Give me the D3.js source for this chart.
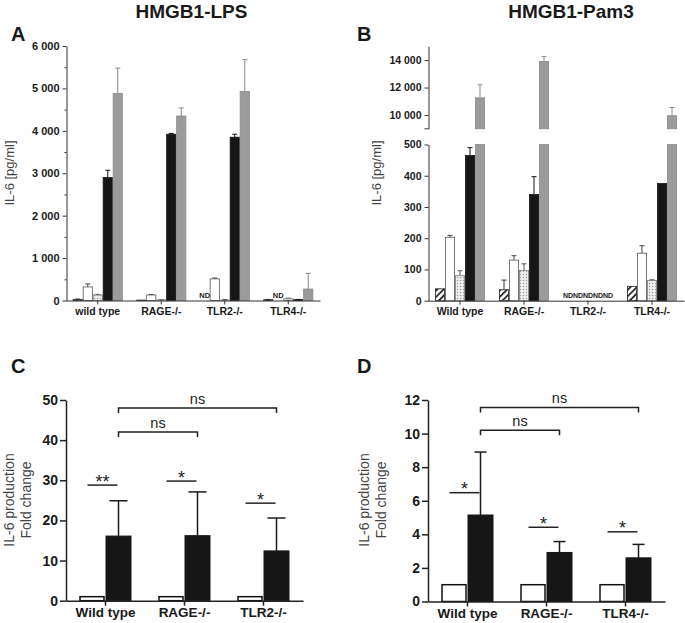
<!DOCTYPE html>
<html><head><meta charset="utf-8">
<script src="https://cdn.jsdelivr.net/npm/d3@7"></script>
<style>body{margin:0;background:#fff}svg{display:block;font-family:"Liberation Sans",Arial,sans-serif}</style>
</head><body><svg id="c" width="685" height="623"></svg>
<script>
// ---------- DATA ----------
const seriesKeys = ["hatched","white","dotted","black","gray"];
// Panel A (HMGB1-LPS)
const groupsA = ["wild type","RAGE-/-","TLR2-/-","TLR4-/-"];
const valuesA = [[25,320,130,2900,4880],[10,130,15,3920,4350],[null,510,8,3850,4930],[20,null,40,20,270]];
const errorsA = [[10,70,15,170,600],[0,10,5,20,190],[0,20,15,70,750],[5,0,15,5,370]];
const ticksA = [0,1000,2000,3000,4000,5000,6000];
const minorTicksA = [500,1500,2500,3500,4500,5500];
// Panel B (HMGB1-Pam3)
const groupsB = ["Wild type","RAGE-/-","TLR2-/-","TLR4-/-"];
const valuesB = [[38,203,80,465,11250],[35,130,97,340,13900],[null,null,null,null,null],[46,152,65,375,9950]];
const errorsB = [[0,6,16,25,950],[31,14,21,57,350],[0,0,0,0,0],[0,24,2,0,600]];
const ticksBLow = [0,100,200,300,400,500];
const ticksBHigh = [10000,12000,14000];
// Panel C
const groupsC = ["Wild type","RAGE-/-","TLR2-/-"];
const controlC = [1,1,1];
const treatedC = [16.1,16.2,12.4];
const errorsC = [8.8,10.9,8.2];
const ticksC = [0,10,20,30,40,50];
const starsC = ["**","*","*"];
const starLevelC = [28.8,29.8,24.3];
const bracketsC = [{from:0,to:2,level:48,label:"ns"},{from:0,to:1,level:42,label:"ns"}];
// Panel D
const groupsD = ["Wild type","RAGE-/-","TLR4-/-"];
const controlD = [1,1,1];
const treatedD = [5.15,2.92,2.6];
const errorsD = [3.75,0.65,0.8];
const ticksD = [0,2,4,6,8,10,12];
const starsD = ["*","*","*"];
const starLevelD = [6.48,4.42,4.15];
const bracketsD = [{from:0,to:2,level:11.56,label:"ns"},{from:0,to:1,level:10.2,label:"ns"}];

// ---------- DRAW ----------
const svg = d3.select("#c");
const fmt = d3.formatLocale({decimal:".",thousands:"\u2009",grouping:[3],currency:["",""]}).format(",");
const fmtSp = v => fmt(v).replace("\u2009"," ");
const defs = svg.append("defs");
const hp = defs.append("pattern").attr("id","hatch").attr("patternUnits","userSpaceOnUse")
  .attr("width",4.5).attr("height",4.5).attr("patternTransform","rotate(45)");
hp.append("rect").attr("width",4.5).attr("height",4.5).attr("fill","#fff");
hp.append("line").attr("x1",0.8).attr("y1",0).attr("x2",0.8).attr("y2",4.5).attr("stroke","#111").attr("stroke-width",1.6);
const dp = defs.append("pattern").attr("id","dots").attr("patternUnits","userSpaceOnUse").attr("width",3).attr("height",3);
dp.append("rect").attr("width",3).attr("height",3).attr("fill","#eeeeee");
dp.append("circle").attr("cx",1.5).attr("cy",1.5).attr("r",0.65).attr("fill","#9a9a9a");

const style = {
  hatched:{fill:"url(#hatch)",stroke:"#222",err:"#333"},
  white:{fill:"#fff",stroke:"#555",err:"#444"},
  dotted:{fill:"url(#dots)",stroke:"#777",err:"#555"},
  black:{fill:"#161616",stroke:"#161616",err:"#111"},
  gray:{fill:"#9b9b9b",stroke:"#8a8a8a",err:"#888"}
};

function styleAxis(g, size, color){
  g.select(".domain").attr("stroke",color||"#333");
  g.selectAll(".tick line").attr("stroke",color||"#333");
  g.selectAll("text").attr("font-size",size).attr("font-weight","bold").attr("fill","#1a1a1a")
    .attr("font-family","'Liberation Sans',Arial,sans-serif");
}
function text(x,y,s,size,opt={}){
  return svg.append("text").attr("x",x).attr("y",y).text(s).attr("font-size",size)
    .attr("font-weight",opt.w||"normal").attr("fill",opt.c||"#1a1a1a").attr("text-anchor",opt.a||"middle");
}
function ylabel(x,yc,lines,size,gap){
  const t = svg.append("text").attr("transform",`translate(${x},${yc}) rotate(-90)`)
    .attr("text-anchor","middle").attr("font-size",size).attr("fill","#444");
  lines.forEach((l,i)=>t.append("tspan").attr("x",0).attr("dy",i?gap:0).text(l));
}
function errBar(g,x,y0,y1,cap,color,w){
  g.append("line").attr("x1",x).attr("x2",x).attr("y1",y0).attr("y2",y1).attr("stroke",color).attr("stroke-width",w||1);
  g.append("line").attr("x1",x-cap/2).attr("x2",x+cap/2).attr("y1",y1).attr("y2",y1).attr("stroke",color).attr("stroke-width",w||1);
}

// Titles and panel letters
text(191.5,18,"HMGB1-LPS",19,{w:"bold"});
text(571,18,"HMGB1-Pam3",19,{w:"bold"});
text(11,41,"A",20,{w:"bold",a:"start"});
text(357,41,"B",20,{w:"bold",a:"start"});
text(11,373,"C",20,{w:"bold",a:"start"});
text(357,373,"D",20,{w:"bold",a:"start"});

// ---------- Panel A ----------
{
  const x = d3.scaleBand().domain(groupsA).range([66,320]);
  const s = d3.scaleBand().domain(seriesKeys).range([-25,25]);
  const y = d3.scaleLinear().domain([0,6000]).range([300.5,46]);
  const g = svg.append("g");
  groupsA.forEach((gr,gi)=>{
    const c = x(gr)+x.bandwidth()/2;
    seriesKeys.forEach((k,si)=>{
      const v = valuesA[gi][si];
      const bx = c+s(k);
      if(v==null){ text(bx+s.bandwidth()/2,298,"ND",7.5,{w:"bold"}); return; }
      const e = errorsA[gi][si];
      if(e>0) errBar(g,bx+s.bandwidth()/2,y(v),y(v+e),5,style[k].err);
      g.append("rect").attr("x",bx+0.4).attr("width",s.bandwidth()-0.8).attr("y",y(v)).attr("height",y(0)-y(v))
        .attr("fill",style[k].fill).attr("stroke",style[k].stroke).attr("stroke-width",0.8);
    });
  });
  const ya = svg.append("g").attr("transform","translate(66.5,0)")
    .call(d3.axisLeft(y).tickValues(ticksA).tickSize(4).tickSizeOuter(0).tickPadding(3).tickFormat(fmtSp));
  styleAxis(ya,11);
  const ym = svg.append("g").attr("transform","translate(66.5,0)")
    .call(d3.axisLeft(y).tickValues(minorTicksA).tickSize(2).tickSizeOuter(0).tickFormat(""));
  ym.select(".domain").remove(); ym.selectAll("line").attr("stroke","#333");
  const xa = svg.append("g").attr("transform","translate(0,300.5)")
    .call(d3.axisBottom(x).tickSize(4).tickSizeOuter(0).tickPadding(3));
  styleAxis(xa,10.5);
  ylabel(14,173,["IL-6 [pg/ml]"],13,0);
}

// ---------- Panel B ----------
{
  const x = d3.scaleBand().domain(groupsB).range([428,684]);
  const s = d3.scaleBand().domain(seriesKeys).range([-25,25]);
  const yL = d3.scaleLinear().domain([0,500]).range([300.7,144.5]);
  const yH = d3.scaleLinear().domain([9000,15000]).range([128.8,46.3]);
  const g = svg.append("g");
  groupsB.forEach((gr,gi)=>{
    const c = x(gr)+x.bandwidth()/2;
    seriesKeys.forEach((k,si)=>{
      const v = valuesB[gi][si];
      const bx = c+s(k), bw = s.bandwidth(), cx = bx+bw/2;
      if(v==null){ text(cx,298,"ND",7,{w:"bold"}); return; }
      const e = errorsB[gi][si];
      const st = style[k];
      if(v>500){
        if(e>0) errBar(g,cx,yH(v),yH(v+e),5,st.err);
        g.append("rect").attr("x",bx+0.4).attr("width",bw-0.8).attr("y",yL(500)).attr("height",yL(0)-yL(500))
          .attr("fill",st.fill).attr("stroke",st.stroke).attr("stroke-width",0.8);
        g.append("rect").attr("x",bx+0.4).attr("width",bw-0.8).attr("y",yH(v)).attr("height",yH(9000)-yH(v))
          .attr("fill",st.fill).attr("stroke",st.stroke).attr("stroke-width",0.8);
      } else {
        if(e>0) errBar(g,cx,yL(v),yL(v+e),5,st.err);
        g.append("rect").attr("x",bx+0.4).attr("width",bw-0.8).attr("y",yL(v)).attr("height",yL(0)-yL(v))
          .attr("fill",st.fill).attr("stroke",st.stroke).attr("stroke-width",0.8);
      }
    });
  });
  const yaL = svg.append("g").attr("transform","translate(428.5,0)")
    .call(d3.axisLeft(yL).tickValues(ticksBLow).tickSize(4).tickSizeOuter(0).tickPadding(3).tickFormat(fmtSp));
  styleAxis(yaL,10.5);
  const yaH = svg.append("g").attr("transform","translate(428.5,0)")
    .call(d3.axisLeft(yH).tickValues(ticksBHigh).tickSize(4).tickSizeOuter(0).tickPadding(3).tickFormat(fmtSp));
  styleAxis(yaH,10.5);
  svg.append("line").attr("x1",424.5).attr("x2",428.5).attr("y1",yH(9000)).attr("y2",yH(9000)).attr("stroke","#333");
  const xa = svg.append("g").attr("transform","translate(0,300.7)")
    .call(d3.axisBottom(x).tickSize(4).tickSizeOuter(0).tickPadding(3));
  styleAxis(xa,10.5);
  ylabel(381,173,["IL-6 [pg/ml]"],13,0);
}

// ---------- Panels C & D ----------
function foldPanel(o){
  const x = d3.scaleBand().domain(o.groups).range(o.xr);
  const y = d3.scaleLinear().domain(o.yd).range(o.yr);
  const g = svg.append("g");
  const bw = 25;
  o.groups.forEach((gr,i)=>{
    const c = x(gr)+x.bandwidth()/2;
    const tv = o.treated[i], cv = o.control[i];
    errBar(g,c+13,y(tv),y(tv+o.errors[i]),o.cap,"#1a1a1a",1.5);
    g.append("rect").attr("x",c-25.5).attr("width",bw-1).attr("y",y(cv)).attr("height",y(0)-y(cv))
      .attr("fill","#fff").attr("stroke","#111").attr("stroke-width",1.5);
    g.append("rect").attr("x",c+0.5).attr("width",bw).attr("y",y(tv)).attr("height",y(0)-y(tv))
      .attr("fill","#161616").attr("stroke","#161616").attr("stroke-width",1);
    const ly = y(o.starLevel[i]);
    g.append("line").attr("x1",c-18).attr("x2",c+12).attr("y1",ly).attr("y2",ly).attr("stroke","#222").attr("stroke-width",1.5);
    text(c-3,ly+2.5,o.stars[i],18,{c:"#222"});
  });
  o.brackets.forEach(b=>{
    const x1 = x(o.groups[b.from])+x.bandwidth()/2+13, x2 = x(o.groups[b.to])+x.bandwidth()/2+13;
    const by = y(b.level);
    g.append("path").attr("d",`M${x1},${by+5}V${by}H${x2}V${by+5}`).attr("fill","none").attr("stroke","#222").attr("stroke-width",1.5);
    text((x1+x2)/2,by-4,b.label,14.5,{c:"#222"});
  });
  const ya = svg.append("g").attr("transform",`translate(${o.xr[0]},0)`)
    .call(d3.axisLeft(y).tickValues(o.ticks).tickSize(6).tickSizeOuter(0).tickPadding(2));
  styleAxis(ya,14,"#222"); ya.selectAll("line,path").attr("stroke-width",1.5);
  const xa = svg.append("g").attr("transform",`translate(0,${o.yr[0]})`)
    .call(d3.axisBottom(x).tickSize(5).tickSizeOuter(0).tickPadding(2));
  styleAxis(xa,13.5,"#222"); xa.selectAll("line,path").attr("stroke-width",1.5);
  ylabel(o.labX,500,["IL-6 production","Fold change"],14,17.5);
}
foldPanel({groups:groupsC,control:controlC,treated:treatedC,errors:errorsC,ticks:ticksC,stars:starsC,
  starLevel:starLevelC,brackets:bracketsC,xr:[66,303],yd:[0,50],yr:[600.7,400],cap:18,labX:13.5});
foldPanel({groups:groupsD,control:controlD,treated:treatedD,errors:errorsD,ticks:ticksD,stars:starsD,
  starLevel:starLevelD,brackets:bracketsD,xr:[428,665],yd:[0,12],yr:[601.5,400],cap:12,labX:368.5});
</script></body></html>
